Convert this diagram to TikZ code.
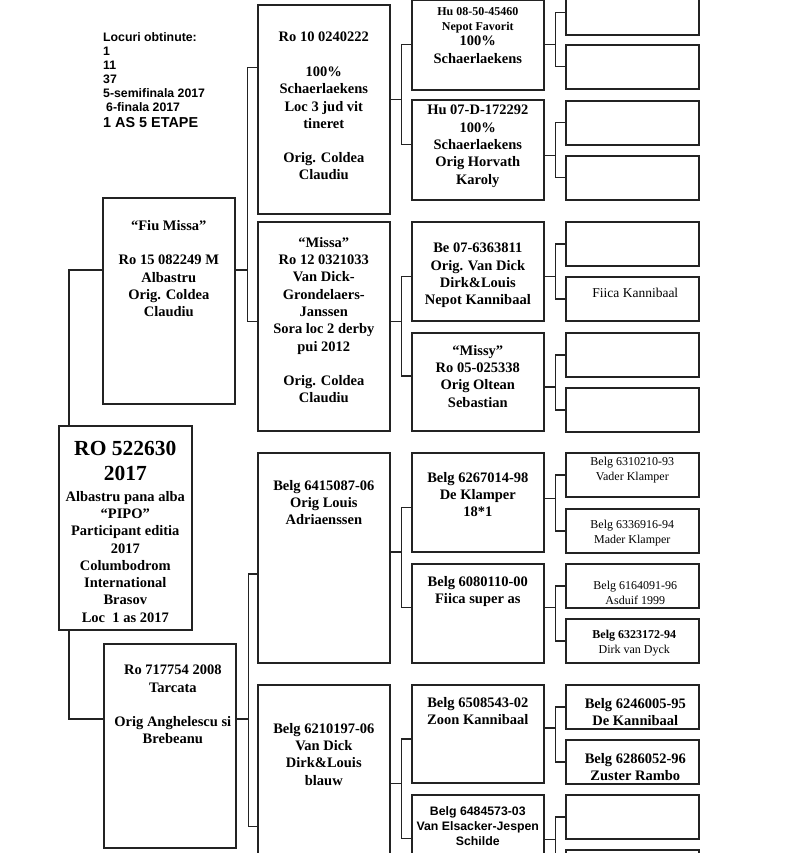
\documentclass[tikz,border=0pt]{standalone}
\usepackage{fontspec}
\setmainfont{Liberation Serif}
\newfontfamily\arialfont{Liberation Sans}
\usetikzlibrary{positioning}
\definecolor{boxline}{RGB}{35,35,35}
\tikzset{
  pbox/.style={draw=boxline,line width=1.6pt,minimum width=132pt,inner sep=0pt,anchor=north west},
  link/.style={draw=boxline,line width=1.4pt},
  bigtxt/.style={inner sep=0pt,align=center,font=\bfseries\fontsize{14.5}{17.3}\selectfont},
  smalltxt/.style={inner sep=0pt,align=center,font=\fontsize{12}{14.5}\selectfont},
  sanstxt/.style={inner sep=0pt,font=\arialfont\bfseries\fontsize{12.3}{14}\selectfont}
}
\begin{document}
\begin{tikzpicture}[x=1pt,y=-1pt]
        \useasboundingbox (0,0) rectangle (800,853);
        \clip (0,0) rectangle (800,853);
        \node[sanstxt,anchor=north west,align=left] (locuri) at (103,32) {Locuri obtinute:\\1\\11\\37\\5-semifinala 2017\\\hspace{3pt}6-finala 2017\\[2pt]{\fontsize{14.4}{17}\selectfont 1 AS 5 ETAPE}};
        \node[pbox,minimum width=133pt,minimum height=204pt] (root) at (58,425) {};
        \node[pbox,minimum height=206pt] (fiu) at (102,197) {};
        \node[pbox,minimum height=204pt] (tar) at (103,643) {};
        \node[pbox,minimum height=209pt] (ro10) at (257,4) {};
        \node[pbox,minimum height=209pt] (missa) at (257,221) {};
        \node[pbox,minimum height=210pt] (b6415) at (257,452) {};
        \node[pbox,minimum height=209pt] (b6210) at (257,684) {};
        \foreach \n/\t/\h in {hu08/-1/90,hu07/99/100,be07/221/99,missy/332/98,b6267/452/99,b6080/563/99,b6508/684/98,b6484/794/99}
            \node[pbox,minimum height=\h pt] (\n) at (411,\t) {};
        \foreach \n/\t in {hu08-1/-10,hu08-2/44,hu07-1/100,hu07-2/155,be07-1/221,be07-2/276,missy-1/332,missy-2/387,b6267-1/452,b6267-2/508,b6080-1/563,b6080-2/618,b6508-1/684,b6508-2/739,b6484-1/794,b6484-2/849}
            \node[pbox,minimum width=133pt,minimum height=44pt] (\n) at (565,\t) {};
        \draw[link] ([xshift=11pt]root.north west) |- ([yshift=31pt]fiu.west);
        \draw[link] ([xshift=11pt]root.south west) |- ([yshift=27pt]tar.west);
        \draw[link] ([yshift=31pt]fiu.east) -- ++(12,0) |- ([yshift=42pt]ro10.west);
        \draw[link] ([yshift=31pt]fiu.east) -- ++(12,0) |- ([yshift=5pt]missa.west);
        \draw[link] ([yshift=27pt]tar.east) -- ++(12,0) |- ([yshift=-16pt]b6415.west);
        \draw[link] ([yshift=27pt]tar.east) -- ++(12,0) |- ([yshift=-37pt]b6210.west);
        \foreach \p/\s/\a/\sa/\b/\sb in {ro10/10/hu08/0/hu07/5,missa/5/be07/-5/missy/6,b6415/6/b6267/-5/b6080/6,b6210/6/b6508/-5/b6484/6}{
            \draw[link] ([yshift=\s pt]\p.east) -- ++(11,0) |- ([yshift=\sa pt]\a.west);
            \draw[link] ([yshift=\s pt]\p.east) -- ++(11,0) |- ([yshift=\sb pt]\b.west);
        }
        \foreach \p/\s in {hu08/0,hu07/-6,be07/-5,missy/-5,b6267/4,b6080/6,b6508/6,b6484/5}{
            \draw[link] ([yshift=\s pt]\p.east) -- ++(11,0) |- (\p-1.west);
            \draw[link] ([yshift=\s pt]\p.east) -- ++(11,0) |- (\p-2.west);
        }
        \node[bigtxt,font=\bfseries\fontsize{21.5}{25}\selectfont,below=16pt of root.north] (roottitle) {RO 522630\\2017};
        \node[bigtxt,below=10pt of roottitle] (rootbody) {Albastru pana alba\\“PIPO”\\Participant editia\\2017\\Columbodrom\\International\\Brasov\\Loc\ \ 1 as 2017};
        \node[bigtxt,below=23pt of fiu.north] (fiutxt) {“Fiu Missa”\\[17.3pt]Ro 15 082249 M\\Albastru\\Orig. Coldea\\Claudiu};
        \node[bigtxt,below=22pt of tar.north,xshift=3pt] (tartxt) {Ro 717754 2008\\Tarcata\\[17pt]Orig Anghelescu si\\Brebeanu};
        \node[bigtxt,below=28pt of ro10.north] (ro10txt) {Ro 10 0240222\\[17.3pt]100\%\\Schaerlaekens\\Loc 3 jud vit\\tineret\\[17pt]Orig. Coldea\\Claudiu};
        \node[bigtxt,below=16pt of missa.north] (missatxt) {“Missa”\\Ro 12 0321033\\Van Dick-\\Grondelaers-\\Janssen\\Sora loc 2 derby\\pui 2012\\[17pt]Orig. Coldea\\Claudiu};
        \node[bigtxt,below=28pt of b6415.north] (b6415txt) {Belg 6415087-06\\Orig Louis\\Adriaenssen};
        \node[bigtxt,below=39pt of b6210.north] (b6210txt) {Belg 6210197-06\\Van Dick\\Dirk\&Louis\\blauw};
        \node[bigtxt,below=8pt of hu08.north] (hu08txt) {{\fontsize{12}{15}\selectfont Hu 08-50-45460}\\[-2pt]{\fontsize{12}{15}\selectfont Nepot Favorit}\\[-2pt]100\%\\Schaerlaekens};
        \node[bigtxt,below=6pt of hu07.north] (hu07txt) {Hu 07-D-172292\\100\%\\Schaerlaekens\\Orig Horvath\\Karoly};
        \node[bigtxt,below=22pt of be07.north] (be07txt) {Be 07-6363811\\Orig. Van Dick\\Dirk\&Louis\\Nepot Kannibaal};
        \node[bigtxt,below=13pt of missy.north] (missytxt) {“Missy”\\Ro 05-025338\\Orig Oltean\\Sebastian};
        \node[bigtxt,below=20pt of b6267.north] (b6267txt) {Belg 6267014-98\\De Klamper\\18*1};
        \node[bigtxt,below=13pt of b6080.north] (b6080txt) {Belg 6080110-00\\Fiica super as};
        \node[bigtxt,below=13pt of b6508.north] (b6508txt) {Belg 6508543-02\\Zoon Kannibaal};
        \node[sanstxt,align=center,font=\arialfont\bfseries\fontsize{12.3}{15}\selectfont,below=12pt of b6484.north] (b6484txt) {Belg 6484573-03\\Van Elsacker-Jespen\\Schilde};
        \node[smalltxt,font=\fontsize{13.5}{15}\selectfont,below=12pt of be07-2.north,xshift=3pt] (fiica) {Fiica Kannibaal};
        \node[smalltxt,below=5pt of b6267-1.north] (vader) {Belg 6310210-93\\Vader Klamper};
        \node[smalltxt,below=12pt of b6267-2.north] (mader) {Belg 6336916-94\\Mader Klamper};
        \node[smalltxt,below=18pt of b6080-1.north,xshift=3pt] (asduif) {Belg 6164091-96\\Asduif 1999};
        \node[smalltxt,below=12pt of b6080-2.north,xshift=2pt] (dirk) {\textbf{Belg 6323172-94}\\Dirk van Dyck};
        \node[bigtxt,below=14pt of b6508-1.north,xshift=3pt] (dekanni) {Belg 6246005-95\\De Kannibaal};
        \node[bigtxt,below=14pt of b6508-2.north,xshift=3pt] (zuster) {Belg 6286052-96\\Zuster Rambo};
    \end{tikzpicture}
\end{document}
